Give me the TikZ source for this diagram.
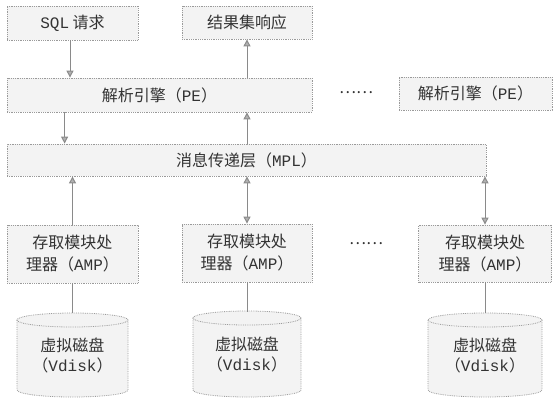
\documentclass[tikz,border=0pt]{standalone}
\usepackage{fontspec}
\setmainfont{Noto Sans CJK SC}
\newfontfamily\latfont{Liberation Mono}
\usetikzlibrary{arrows.meta}
\newcommand{\La}[1]{{\latfont #1}}
\definecolor{boxfill}{HTML}{F3F3F3}
\definecolor{boxline}{HTML}{9A9A9A}
\definecolor{arrline}{HTML}{8A8A8A}
\definecolor{txt}{HTML}{333333}
\newcommand{\mycyl}[4]{% cx, ytop, half width, ybottom
  \fill[boxfill] (#1-#3,#2) -- (#1-#3,#4) arc[start angle=180,end angle=360,x radius=#3pt,y radius=7pt] -- (#1+#3,#2) -- cycle;
  \draw[cylline] (#1-#3,#2) -- (#1-#3,#4) arc[start angle=180,end angle=360,x radius=#3pt,y radius=7pt] -- (#1+#3,#2);
  \draw[cylline,fill=boxfill] (#1,#2) ellipse[x radius=#3pt,y radius=7pt];
}
\begin{document}
\begin{tikzpicture}[x=1pt,y=-1pt,
  box/.style={draw=boxline, densely dotted, line width=0.8pt, fill=boxfill, inner sep=0pt,
    text=txt, font=\fontsize{16}{22}\selectfont, align=center},
  cylline/.style={draw=boxline, densely dotted, line width=0.8pt},
  cyltext/.style={inner sep=0pt, text=txt, font=\fontsize{16}{20}\selectfont, align=center,
    minimum height=84pt},
  arr/.style={draw=arrline, line width=1pt, -{Triangle[width=7pt,length=7pt,fill=black!30]}},
  darr/.style={draw=arrline, line width=1pt, {Triangle[width=7pt,length=7pt,fill=black!30]}-{Triangle[width=7pt,length=7pt,fill=black!30]}},
  plain/.style={draw=arrline, line width=1pt},
  dots/.style={text=txt, font=\fontsize{16}{16}\selectfont, inner sep=0pt}
]
\useasboundingbox (0,0) rectangle (558,400);

% top boxes
\node[box, minimum width=131pt, minimum height=34pt] (sql) at (72.5,23) {\La{SQL} 请求};
\node[box, minimum width=130pt, minimum height=33pt] (res) at (247,22.5) {结果集响应};

% parsing engines
\node[box, minimum width=305pt, minimum height=34pt] (pe1) at (159.5,95) {解析引擎（\La{PE}）};
\node[box, minimum width=153pt, minimum height=33pt] (pe2) at (475.5,93.5) {解析引擎（\La{PE}）};
\node[dots] (dots1) at (356,93) {……};

% message passing layer
\node[box, minimum width=479pt, minimum height=32pt] (mpl) at (246.5,160) {消息传递层（\La{MPL}）};

% AMPs
\node[box, minimum width=131pt, minimum height=58pt] (amp1) at (72.5,254) {存取模块处\\理器（\La{AMP}）};
\node[box, minimum width=130pt, minimum height=58pt] (amp2) at (247,253) {存取模块处\\理器（\La{AMP}）};
\node[box, minimum width=133pt, minimum height=57pt] (amp3) at (485,253.5) {存取模块处\\理器（\La{AMP}）};
\node[dots] (dots2) at (366,244) {……};

% disks
\mycyl{72.5}{320}{55.5}{390}
\mycyl{247}{318}{54}{390}
\mycyl{485}{320}{57}{390}
\node[cyltext, minimum width=111pt] (cyl1) at (72.5,355) {虚拟磁盘\\（\La{Vdisk}）};
\node[cyltext, minimum width=108pt] (cyl2) at (247,354) {虚拟磁盘\\（\La{Vdisk}）};
\node[cyltext, minimum width=114pt] (cyl3) at (485,355) {虚拟磁盘\\（\La{Vdisk}）};

% connectors
\draw[arr] ([xshift=-2.5pt]sql.south) -- ([xshift=-2.5pt]sql.south |- pe1.north);
\draw[arr] (res.south |- pe1.north) -- (res.south);
\draw[arr] ([xshift=58pt]pe1.south west) -- ([xshift=58pt]mpl.north west);
\draw[arr] (res.south |- mpl.north) -- (res.south |- pe1.south);
\draw[arr] (amp1.north) -- (amp1.north |- mpl.south);
\draw[darr] (amp2.north) -- (amp2.north |- mpl.south);
\draw[darr] (amp3.north) -- (amp3.north |- mpl.south);
\draw[plain] (amp1.south) -- (cyl1.north);
\draw[plain] (amp2.south) -- (cyl2.north);
\draw[plain] (amp3.south) -- (cyl3.north);
\end{tikzpicture}
\end{document}
